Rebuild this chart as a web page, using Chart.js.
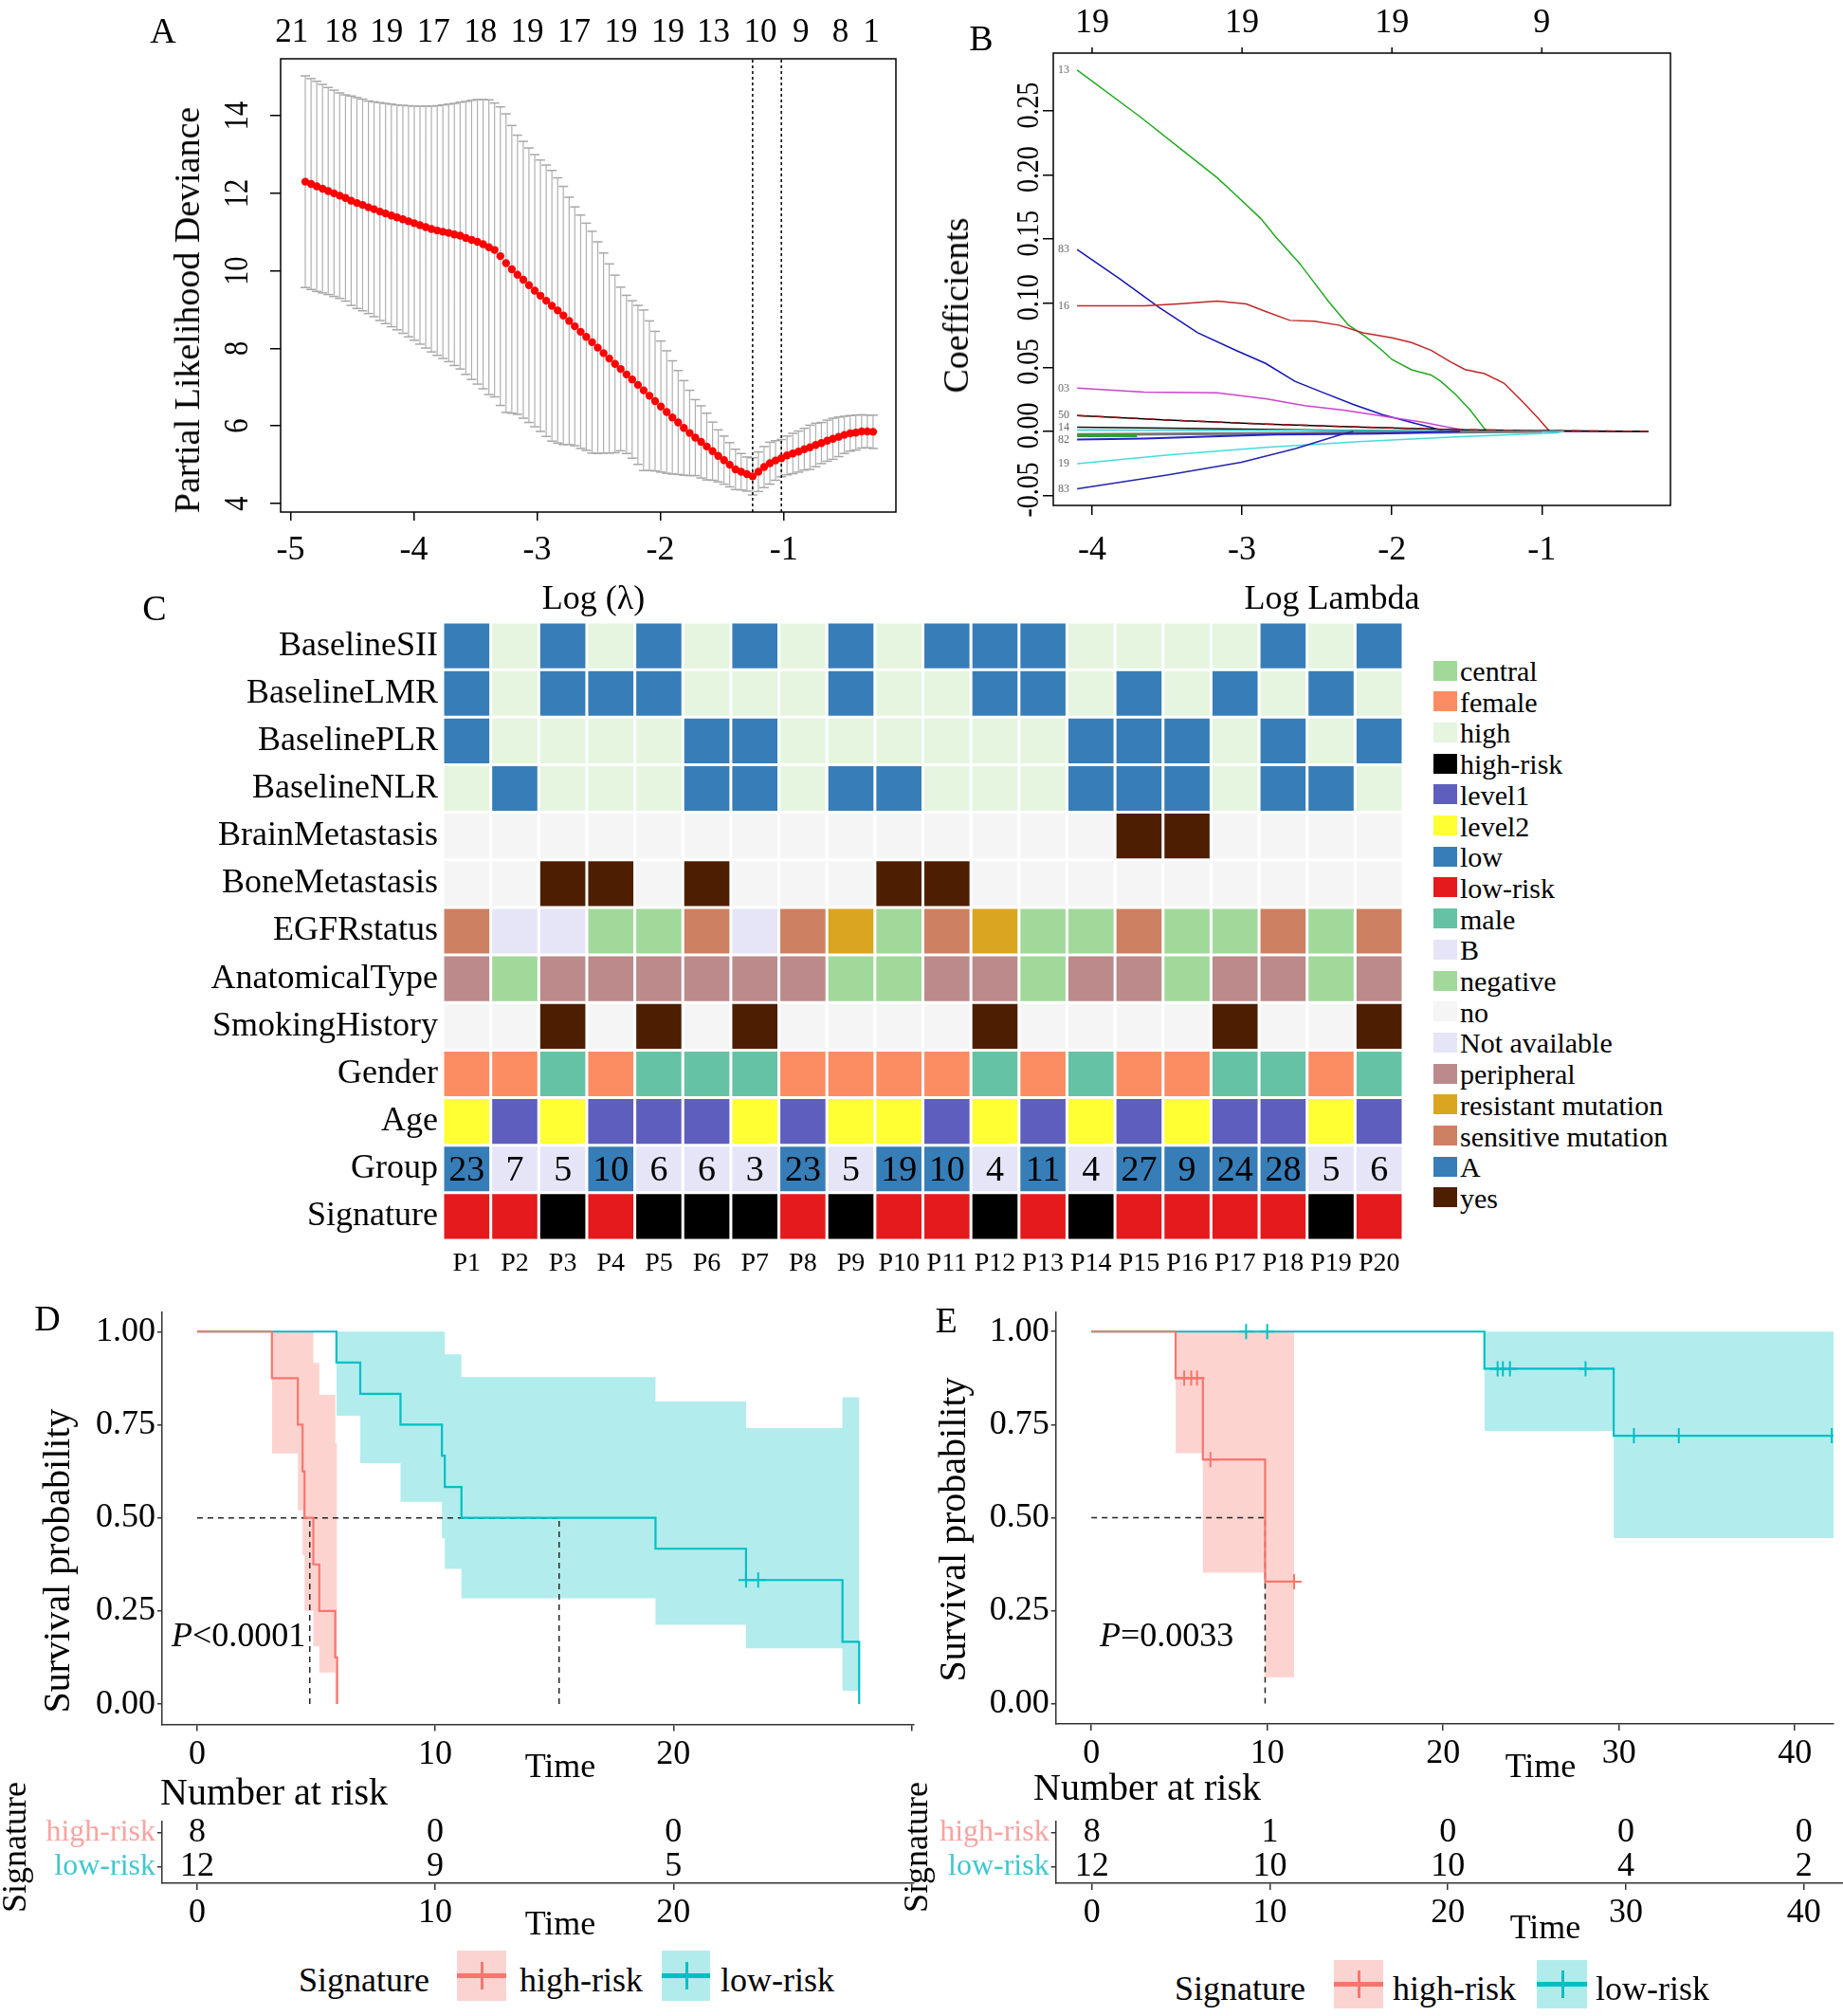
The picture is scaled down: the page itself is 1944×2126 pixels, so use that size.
<!DOCTYPE html>
<html>
<head>
<meta charset="utf-8">
<script src="https://cdn.jsdelivr.net/npm/chart.js@4.4.0/dist/chart.umd.min.js"></script>
<style>
  body { margin: 0; background: #fff; width: 1944px; height: 2126px; position: relative; overflow: hidden;
         font-family: 'Liberation Serif', 'Times New Roman', serif; color: #000; }
  canvas { position: absolute; }
  .t { position: absolute; white-space: nowrap; line-height: 1; transform: translate(-50%, -50%); }
  .rot { transform: translate(-50%, -50%) rotate(-90deg); }
  .l { position: absolute; white-space: nowrap; line-height: 1; transform: translate(0, -50%); }
  .key { position: absolute; }
  .key .h { position: absolute; left: 0; right: 0; top: 50%; height: 5px; margin-top: -3px; }
  .key .v { position: absolute; left: 50%; width: 3px; margin-left: -1px; top: 22%; bottom: 22%; }
  .sw { position: absolute; width: 25px; height: 21px; }
</style>
</head>
<body>
<canvas id="chartA" width="976" height="660" style="left:0;top:0"></canvas>
<canvas id="chartB" width="968" height="660" style="left:976px;top:0"></canvas>
<canvas id="chartC" width="1500" height="720" style="left:0;top:640px"></canvas>
<canvas id="chartD" width="976" height="520" style="left:0;top:1360px"></canvas>
<canvas id="tableD" width="976" height="140" style="left:0;top:1900px"></canvas>
<canvas id="chartE" width="968" height="520" style="left:976px;top:1360px"></canvas>
<canvas id="tableE" width="968" height="140" style="left:976px;top:1900px"></canvas>

<div class="t" style="left:172px;top:32px;font-size:38px">A</div>
<div class="t" style="left:1035px;top:40px;font-size:38px">B</div>
<div class="t" style="left:163px;top:641px;font-size:38px">C</div>
<div class="t" style="left:50px;top:1390px;font-size:38px">D</div>
<div class="t" style="left:998px;top:1392px;font-size:38px">E</div>

<div class="t rot" style="left:197px;top:327px;font-size:38px">Partial Likelihood Deviance</div>
<div class="t" style="left:626px;top:630px;font-size:36px">Log (λ)</div>
<div class="t rot" style="left:1008px;top:322px;font-size:38px">Coefficients</div>
<div class="t" style="left:1405px;top:630px;font-size:36px">Log Lambda</div>

<div class="t rot" style="left:60px;top:1646px;font-size:40px">Survival probability</div>
<div class="t" style="left:591px;top:1862px;font-size:36px">Time</div>
<div class="l" style="left:181px;top:1724px;font-size:36px"><i>P</i>&lt;0.0001</div>
<div class="t" style="left:289px;top:1890px;font-size:40px">Number at risk</div>
<div class="t rot" style="left:15px;top:1948px;font-size:36px">Signature</div>
<div class="t" style="left:591px;top:2028px;font-size:36px">Time</div>

<div class="t rot" style="left:1005px;top:1613px;font-size:40px">Survival probability</div>
<div class="t" style="left:1625px;top:1862px;font-size:36px">Time</div>
<div class="l" style="left:1160px;top:1724px;font-size:36px"><i>P</i>=0.0033</div>
<div class="t" style="left:1210px;top:1885px;font-size:40px">Number at risk</div>
<div class="t rot" style="left:966px;top:1948px;font-size:36px">Signature</div>
<div class="t" style="left:1630px;top:2032px;font-size:36px">Time</div>

<div class="t" style="left:384px;top:2088px;font-size:36px">Signature</div>
<div class="key" style="left:482px;top:2057px;width:52px;height:53px;background:#fbd3d1"><div class="h" style="background:#f8766d"></div><div class="v" style="background:#f8766d"></div></div>
<div class="l" style="left:548px;top:2088px;font-size:36px">high-risk</div>
<div class="key" style="left:698px;top:2057px;width:51px;height:53px;background:#b2ebeb"><div class="h" style="background:#00bfc4"></div><div class="v" style="background:#00bfc4"></div></div>
<div class="l" style="left:760px;top:2088px;font-size:36px">low-risk</div>

<div class="t" style="left:1308px;top:2097px;font-size:36px">Signature</div>
<div class="key" style="left:1407px;top:2067px;width:52px;height:51px;background:#fbd3d1"><div class="h" style="background:#f8766d"></div><div class="v" style="background:#f8766d"></div></div>
<div class="l" style="left:1469px;top:2097px;font-size:36px">high-risk</div>
<div class="key" style="left:1621px;top:2067px;width:53px;height:51px;background:#b2ebeb"><div class="h" style="background:#00bfc4"></div><div class="v" style="background:#00bfc4"></div></div>
<div class="l" style="left:1683px;top:2097px;font-size:36px">low-risk</div>

<div id="heatLegend"></div>

<script>
// ---------- panel A: cross-validation curve ----------
const logLambda = [
  -4.880, -4.833, -4.787, -4.740, -4.694, -4.647, -4.601, -4.554, -4.508, -4.461,
  -4.415, -4.368, -4.322, -4.275, -4.229, -4.182, -4.136, -4.089, -4.043, -3.996,
  -3.950, -3.903, -3.857, -3.810, -3.764, -3.717, -3.671, -3.624, -3.578, -3.531,
  -3.484, -3.438, -3.391, -3.345, -3.298, -3.252, -3.205, -3.159, -3.112, -3.066,
  -3.019, -2.973, -2.926, -2.880, -2.833, -2.787, -2.740, -2.694, -2.647, -2.601,
  -2.554, -2.508, -2.461, -2.415, -2.368, -2.322, -2.275, -2.229, -2.182, -2.136,
  -2.089, -2.043, -1.996, -1.949, -1.903, -1.856, -1.810, -1.763, -1.717, -1.670,
  -1.624, -1.577, -1.531, -1.484, -1.438, -1.391, -1.345, -1.298, -1.252, -1.205,
  -1.159, -1.112, -1.066, -1.019, -0.973, -0.926, -0.880, -0.833, -0.787, -0.740,
  -0.694, -0.647, -0.601, -0.554, -0.508, -0.461, -0.415, -0.368, -0.322, -0.275
];
const cvMean = [
  12.30, 12.24, 12.18, 12.12, 12.06, 12.00, 11.94, 11.88, 11.81, 11.75,
  11.70, 11.64, 11.59, 11.53, 11.48, 11.43, 11.38, 11.33, 11.28, 11.23,
  11.18, 11.13, 11.08, 11.04, 11.01, 10.98, 10.94, 10.91, 10.85, 10.80,
  10.75, 10.69, 10.61, 10.54, 10.38, 10.20, 10.04, 9.90, 9.77, 9.63,
  9.49, 9.36, 9.23, 9.10, 8.98, 8.85, 8.71, 8.57, 8.43, 8.30,
  8.16, 8.02, 7.88, 7.74, 7.60, 7.47, 7.33, 7.20, 7.06, 6.92,
  6.78, 6.64, 6.50, 6.36, 6.22, 6.09, 5.95, 5.82, 5.70, 5.59,
  5.47, 5.35, 5.23, 5.12, 5.00, 4.88, 4.82, 4.76, 4.70, 4.82,
  4.94, 5.04, 5.11, 5.17, 5.24, 5.29, 5.34, 5.40, 5.45, 5.51,
  5.56, 5.62, 5.67, 5.72, 5.77, 5.81, 5.83, 5.86, 5.86, 5.85
];
const cvSd = [
  2.73, 2.72, 2.71, 2.69, 2.67, 2.66, 2.65, 2.66, 2.70, 2.72,
  2.73, 2.74, 2.77, 2.81, 2.84, 2.87, 2.90, 2.94, 2.98, 3.02,
  3.07, 3.12, 3.17, 3.22, 3.27, 3.32, 3.38, 3.44, 3.52, 3.60,
  3.67, 3.73, 3.80, 3.79, 3.85, 3.85, 3.71, 3.60, 3.57, 3.54,
  3.51, 3.50, 3.50, 3.49, 3.42, 3.33, 3.19, 3.08, 3.01, 2.93,
  2.86, 2.73, 2.58, 2.44, 2.29, 2.11, 2.04, 2.03, 2.05, 2.07,
  1.93, 1.80, 1.69, 1.58, 1.46, 1.34, 1.22, 1.10, 0.98, 0.93,
  0.86, 0.75, 0.67, 0.62, 0.57, 0.52, 0.47, 0.44, 0.48, 0.51,
  0.53, 0.54, 0.51, 0.48, 0.50, 0.52, 0.53, 0.54, 0.57, 0.56,
  0.53, 0.53, 0.53, 0.51, 0.48, 0.46, 0.45, 0.43, 0.42, 0.43
];
const lambdaMinIdx = 78;
const lambda1seIdx = 83;
const topPosA = [-4.99, -4.59, -4.22, -3.84, -3.46, -3.08, -2.70, -2.32, -1.94, -1.57, -1.19, -0.86, -0.54, -0.29];
const topLabA = ['21', '18', '19', '17', '18', '19', '17', '19', '19', '13', '10', '9', '8', '1'];
const xTicksA = [-5, -4, -3, -2, -1];
const yTicksA = [4, 6, 8, 10, 12, 14];

// ---------- panel B: coefficient paths ----------
const greenPath = [[-4.10, 0.282], [-3.685, 0.246], [-3.426, 0.222], [-3.166, 0.198], [-3.037, 0.184], [-2.874, 0.166],
  [-2.777, 0.152], [-2.615, 0.131], [-2.518, 0.116], [-2.420, 0.101], [-2.291, 0.083], [-2.177, 0.074], [-2.064, 0.063],
  [-1.999, 0.056], [-1.869, 0.048], [-1.739, 0.044], [-1.674, 0.039], [-1.577, 0.029], [-1.480, 0.017], [-1.382, 0.002],
  [-1.36, 0], [-0.29, 0]];
const blueHiPath = [[-4.10, 0.142], [-3.815, 0.119], [-3.556, 0.097], [-3.296, 0.077], [-3.037, 0.063], [-2.842, 0.053],
  [-2.647, 0.039], [-2.453, 0.030], [-2.258, 0.021], [-2.064, 0.013], [-1.869, 0.007], [-1.739, 0.003], [-1.674, 0.001], [-1.64, 0]];
const redPath = [[-4.10, 0.098], [-3.653, 0.098], [-3.426, 0.0995], [-3.166, 0.1017], [-2.972, 0.0995], [-2.842, 0.0935],
  [-2.680, 0.0866], [-2.518, 0.0859], [-2.355, 0.0829], [-2.193, 0.0769], [-1.999, 0.073], [-1.869, 0.0693], [-1.739, 0.0633],
  [-1.609, 0.0542], [-1.512, 0.0482], [-1.382, 0.0451], [-1.253, 0.0376], [-1.123, 0.0225], [-1.026, 0.0104], [-0.954, 0.0008],
  [-0.94, 0], [-0.75, 0]];
const magentaPath = [[-4.10, 0.0337], [-3.653, 0.0307], [-3.166, 0.0301], [-2.842, 0.0255], [-2.583, 0.0201], [-2.323, 0.0165],
  [-2.064, 0.0119], [-1.804, 0.0074], [-1.609, 0.0029], [-1.512, 0.0008], [-1.49, 0], [-0.29, 0]];
const blackPath = [[-4.10, 0.0124], [-3.491, 0.0088], [-2.842, 0.0057], [-2.193, 0.0033], [-1.545, 0.0012], [-0.896, 0.0005], [-0.29, 0]];
const black2Path = [[-4.10, 0.0033], [-3.5, 0.0025], [-3.0, 0.0018], [-2.5, 0.0010], [-2.0, 0.0005], [-1.5, 0]];
const tealPath = [[-4.10, 0.001], [-2.6, 0.0008], [-1.6, 0.0003], [-0.85, 0]];
const grayPath = [[-4.10, -0.0025], [-2.0, -0.001], [-1.0, 0]];
const greenLowPath = [[-4.10, -0.003], [-3.70, -0.003]];
const blueLowPath = [[-4.10, -0.0063], [-3.653, -0.0057], [-3.2, -0.004], [-2.78, -0.0024], [-2.10, -0.0018], [-1.545, 0]];
const cyanPath = [[-4.10, -0.0253], [-3.491, -0.0184], [-2.842, -0.0124], [-2.193, -0.0079], [-1.545, -0.0042], [-0.896, -0.0012], [-0.86, 0]];
const darkBluePath = [[-4.10, -0.0448], [-3.491, -0.034], [-3.004, -0.0241], [-2.647, -0.0136], [-2.355, -0.0031], [-2.258, 0]];
const xTicksB = [-4, -3, -2, -1];
const topLabB = ['19', '19', '19', '9'];
const yTicksB = [-0.05, 0, 0.05, 0.10, 0.15, 0.20, 0.25];

// ---------- panel C: heatmap ----------
const patients = ['P1','P2','P3','P4','P5','P6','P7','P8','P9','P10','P11','P12','P13','P14','P15','P16','P17','P18','P19','P20'];
const rowNames = ['BaselineSII','BaselineLMR','BaselinePLR','BaselineNLR','BrainMetastasis','BoneMetastasis','EGFRstatus',
  'AnatomicalType','SmokingHistory','Gender','Age','Group','Signature'];
const baselineSII = ['low','high','low','high','low','high','low','high','low','high','low','low','low','high','high','high','high','low','high','low'];
const baselineLMR = ['low','high','low','low','low','high','high','high','low','high','high','low','low','high','low','high','low','high','low','high'];
const baselinePLR = ['low','high','high','high','high','low','low','high','high','high','high','high','high','low','low','low','high','low','high','low'];
const baselineNLR = ['high','low','high','high','high','low','low','high','low','low','high','high','high','low','low','low','high','low','low','high'];
const brainMetastasis = ['no','no','no','no','no','no','no','no','no','no','no','no','no','no','yes','yes','no','no','no','no'];
const boneMetastasis = ['no','no','yes','yes','no','yes','no','no','no','yes','yes','no','no','no','no','no','no','no','no','no'];
const egfrStatus = ['sensitive mutation','Not available','Not available','negative','negative','sensitive mutation','Not available',
  'sensitive mutation','resistant mutation','negative','sensitive mutation','resistant mutation','negative','negative',
  'sensitive mutation','negative','negative','sensitive mutation','negative','sensitive mutation'];
const anatomicalType = ['peripheral','central','peripheral','peripheral','peripheral','peripheral','peripheral','peripheral',
  'central','central','peripheral','peripheral','central','peripheral','peripheral','central','peripheral','peripheral','central','peripheral'];
const smokingHistory = ['no','no','yes','no','yes','no','yes','no','no','no','no','yes','no','no','no','no','yes','no','no','yes'];
const gender = ['female','female','male','female','male','male','male','female','female','female','female','male','female','male',
  'female','female','male','male','female','male'];
const age = ['level2','level1','level2','level1','level1','level1','level2','level1','level2','level2','level1','level2','level1',
  'level2','level1','level2','level1','level1','level2','level1'];
const groupClass = ['A','B','B','A','B','B','B','A','B','A','A','B','A','B','A','A','A','A','B','B'];
const groupNum = [23, 7, 5, 10, 6, 6, 3, 23, 5, 19, 10, 4, 11, 4, 27, 9, 24, 28, 5, 6];
const signature = ['low-risk','low-risk','high-risk','low-risk','high-risk','high-risk','high-risk','low-risk','high-risk','low-risk',
  'low-risk','high-risk','low-risk','high-risk','low-risk','low-risk','low-risk','low-risk','high-risk','low-risk'];
const legendLabels = ['central','female','high','high-risk','level1','level2','low','low-risk','male','B','negative','no',
  'Not available','peripheral','resistant mutation','sensitive mutation','A','yes'];
const legendColors = ['#a1d99b','#fc8d62','#e5f5e0','#000000','#5e5ebf','#ffff33','#377eb8','#e41a1c','#66c2a5','#e5e5f7',
  '#a1d99b','#f5f5f5','#e5e5f7','#bc8a8a','#daa520','#cd8162','#377eb8','#4d1f00'];

// ---------- panel D: KM, training ----------
const dHighT = [0, 3.14, 4.23, 4.43, 4.51, 4.88, 5.13, 5.80, 5.88];
const dHighS = [1, 0.875, 0.75, 0.625, 0.5, 0.375, 0.25, 0.125, 0];
const dLowT = [0, 5.85, 6.85, 8.54, 10.28, 10.40, 11.10, 19.25, 23.05, 27.10, 27.80];
const dLowS = [1, 0.917, 0.833, 0.75, 0.667, 0.583, 0.5, 0.417, 0.333, 0.167, 0];
const dHighBandT = [3.14, 4.23, 4.43, 4.51, 4.88, 5.13, 5.80, 5.88];
const dHighUpper = [1, 1, 1, 1, 0.916, 0.83, 0.70, 0.70];
const dHighLower = [0.673, 0.52, 0.40, 0.25, 0.155, 0.085, 0, 0];
const dLowBandT = [5.85, 6.85, 8.54, 10.28, 10.40, 11.10, 19.25, 23.05, 27.10, 27.80];
const dLowUpper = [1, 1, 1, 1, 0.939, 0.878, 0.812, 0.741, 0.824, 0.824];
const dLowLower = [0.774, 0.647, 0.543, 0.445, 0.363, 0.284, 0.213, 0.15, 0.036, 0.036];
const dHighCensT = [];
const dHighCensS = [];
const dLowCensT = [23.05, 23.56];
const dLowCensS = [0.333, 0.333];
const dMedians = [4.73, 15.2];
const dRiskTimes = [0, 10, 20];
const dRiskHigh = [8, 0, 0];
const dRiskLow = [12, 9, 5];

// ---------- panel E: KM, validation ----------
const eHighT = [0, 4.79, 6.34, 9.88, 11.53];
const eHighS = [1, 0.875, 0.656, 0.328, 0.328];
const eLowT = [0, 22.35, 29.70, 42.10];
const eLowS = [1, 0.9, 0.72, 0.72];
const eHighBandT = [4.79, 6.34, 9.88, 11.53];
const eHighUpper = [1, 1, 1, 1];
const eHighLower = [0.673, 0.352, 0.071, 0.071];
const eLowBandT = [22.35, 29.70, 42.20];
const eLowUpper = [1, 1, 1];
const eLowLower = [0.733, 0.445, 0.445];
const eHighCensT = [5.28, 5.68, 6.01, 6.77, 11.53];
const eHighCensS = [0.875, 0.875, 0.875, 0.656, 0.328];
const eLowCensT = [8.8, 10.0, 23.1, 23.4, 23.8, 28.1, 30.85, 33.4, 42.1];
const eLowCensS = [1, 1, 0.9, 0.9, 0.9, 0.9, 0.72, 0.72, 0.72];
const eMedians = [9.88];
const eRiskTimes = [0, 10, 20, 30, 40];
const eRiskHigh = [8, 1, 0, 0, 0];
const eRiskLow = [12, 10, 10, 4, 2];

const kmYTicks = [0, 0.25, 0.5, 0.75, 1];

// ---------- common settings ----------
const SERIF = "'Liberation Serif', 'Times New Roman', serif";
Chart.defaults.font.family = SERIF;
Chart.defaults.color = '#000';
Chart.defaults.animation = false;
Chart.defaults.responsive = false;
Chart.defaults.devicePixelRatio = 1;
Chart.defaults.plugins.legend.display = false;
Chart.defaults.plugins.tooltip.enabled = false;

const RED = '#f8766d', TEAL = '#00bfc4';
const RED_BAND = 'rgba(248,118,109,0.32)', TEAL_BAND = 'rgba(0,191,196,0.30)';

const setTicks = vals => scale => { scale.ticks = vals.map(v => ({ value: v })); };

// box around the plot region (R style)
const framePlugin = {
  id: 'frame',
  afterDraw(chart) {
    const a = chart.chartArea, g = chart.ctx;
    g.save();
    g.strokeStyle = '#000';
    g.lineWidth = 1.5;
    g.strokeRect(a.left, a.top, a.right - a.left, a.bottom - a.top);
    g.restore();
  }
};

// y tick labels written along the axis
const rotYPlugin = {
  id: 'rotY',
  afterDraw(chart, args, o) {
    const g = chart.ctx, s = chart.scales.y;
    g.save();
    g.font = o.font;
    g.fillStyle = '#000';
    g.textAlign = 'center';
    g.textBaseline = 'middle';
    o.values.forEach((v, i) => {
      g.save();
      g.translate(o.x, s.getPixelForValue(v) - (o.shift || 0));
      g.rotate(-Math.PI / 2);
      g.scale(o.squeeze || 1, 1);
      g.fillText(o.labels[i], 0, 0);
      g.restore();
    });
    g.restore();
  }
};

// numbers above the plot (non-zero counts)
const topLabPlugin = {
  id: 'topLab',
  afterDraw(chart, args, o) {
    const g = chart.ctx, s = chart.scales.x, top = chart.chartArea.top;
    g.save();
    g.font = o.font;
    g.fillStyle = '#000';
    g.strokeStyle = '#000';
    g.lineWidth = 1.5;
    g.textAlign = 'center';
    g.textBaseline = 'middle';
    o.values.forEach((v, i) => {
      const x = s.getPixelForValue(v);
      g.fillText(o.labels[i], x, o.y);
      if (o.tick) {
        g.beginPath();
        g.moveTo(x, top);
        g.lineTo(x, top - o.tick);
        g.stroke();
      }
    });
    g.restore();
  }
};

// ---------- panel A ----------
const aDots = logLambda.map((x, i) => ({ x: x, y: cvMean[i] }));
const aWhiskers = [];
const aCaps = [];
logLambda.forEach((x, i) => {
  aWhiskers.push({ x: x, y: cvMean[i] - cvSd[i] }, { x: x, y: cvMean[i] + cvSd[i] }, { x: x, y: null });
  aCaps.push({ x: x, y: cvMean[i] - cvSd[i] }, { x: x, y: cvMean[i] + cvSd[i] });
});
const aYMin = 3.78, aYMax = 15.47;
const vline = (x, y0, y1) => [{ x: x, y: y0 }, { x: x, y: y1 }];

new Chart(document.getElementById('chartA'), {
  type: 'line',
  data: {
    datasets: [
      { data: aDots, showLine: false, pointRadius: 4.2, pointBackgroundColor: '#ff0000', pointBorderWidth: 0 },
      { data: vline(logLambda[lambdaMinIdx], aYMin, aYMax), borderColor: '#000', borderWidth: 1.5, borderDash: [3, 3], pointRadius: 0 },
      { data: vline(logLambda[lambda1seIdx], aYMin, aYMax), borderColor: '#000', borderWidth: 1.5, borderDash: [3, 3], pointRadius: 0 },
      { data: aCaps, showLine: false, pointStyle: 'line', pointRadius: 5, pointBorderColor: '#a8a8a8', pointBorderWidth: 1.5 },
      { data: aWhiskers, borderColor: '#b0b0b0', borderWidth: 1.2, pointRadius: 0, spanGaps: false }
    ]
  },
  options: {
    layout: { padding: { left: 226, top: 62, right: 31, bottom: 20 } },
    scales: {
      x: {
        type: 'linear', min: -5.08, max: -0.09,
        afterBuildTicks: setTicks(xTicksA),
        ticks: { font: { size: 36 }, color: '#000', padding: 10, callback: v => String(v) },
        grid: { drawOnChartArea: false, tickLength: 9, color: '#000', lineWidth: 1.5 },
        border: { display: false },
        afterFit: s => { s.height = 100; }
      },
      y: {
        type: 'linear', min: aYMin, max: aYMax,
        afterBuildTicks: setTicks(yTicksA),
        ticks: { display: false },
        grid: { drawOnChartArea: false, tickLength: 11, color: '#000', lineWidth: 1.5 },
        border: { display: false },
        afterFit: s => { s.width = 70; }
      }
    },
    plugins: {
      rotY: { values: yTicksA, labels: yTicksA.map(String), x: 252, font: '36px ' + SERIF, squeeze: 0.85 },
      topLab: { values: topPosA, labels: topLabA, y: 35, font: '35px ' + SERIF, tick: 0 }
    }
  },
  plugins: [framePlugin, rotYPlugin, topLabPlugin]
});

// ---------- panel B ----------
const bLines = [
  { path: greenPath, color: '#1faa1f', tag: '13' },
  { path: blueHiPath, color: '#1414b8', tag: '83' },
  { path: redPath, color: '#c02828', tag: '16' },
  { path: magentaPath, color: '#cc44cc', tag: '03' },
  { path: blackPath, color: '#000000', tag: '50' },
  { path: blackPath, color: '#a01010', tag: '', dash: [10, 8] },
  { path: black2Path, color: '#111111', tag: '14' },
  { path: tealPath, color: '#30d0d0', tag: '' },
  { path: grayPath, color: '#777777', tag: '', width: 3 },
  { path: greenLowPath, color: '#3a9a3a', tag: '', width: 4 },
  { path: blueLowPath, color: '#2222cc', tag: '82', width: 2 },
  { path: cyanPath, color: '#40dede', tag: '19' },
  { path: darkBluePath, color: '#2424a8', tag: '83' }
];
const tagPlugin = {
  id: 'tags',
  afterDraw(chart) {
    const g = chart.ctx, y = chart.scales.y, left = chart.chartArea.left;
    g.save();
    g.font = '12px ' + SERIF;
    g.fillStyle = '#666';
    g.textAlign = 'left';
    g.textBaseline = 'middle';
    bLines.forEach(l => { if (l.tag) g.fillText(l.tag, left + 5, y.getPixelForValue(l.path[0][1])); });
    g.restore();
  }
};
new Chart(document.getElementById('chartB'), {
  type: 'line',
  data: {
    datasets: bLines.map(l => ({
      data: l.path.map(p => ({ x: p[0], y: p[1] })),
      borderColor: l.color, borderWidth: l.width || 1.5, borderDash: l.dash || [], pointRadius: 0
    })).reverse()
  },
  options: {
    layout: { padding: { left: 75, top: 56, right: 182, bottom: 27 } },
    scales: {
      x: {
        type: 'linear', min: -4.259, max: -0.142,
        afterBuildTicks: setTicks(xTicksB),
        ticks: { font: { size: 36 }, color: '#000', padding: 16, callback: v => String(v) },
        grid: { drawOnChartArea: false, tickLength: 10, color: '#000', lineWidth: 1.5 },
        border: { display: false },
        afterFit: s => { s.height = 100; }
      },
      y: {
        type: 'linear', min: -0.0578, max: 0.2952,
        afterBuildTicks: setTicks(yTicksB),
        ticks: { display: false },
        grid: { drawOnChartArea: false, tickLength: 11, color: '#000', lineWidth: 1.5 },
        border: { display: false },
        afterFit: s => { s.width = 60; }
      }
    },
    plugins: {
      rotY: { values: yTicksB, labels: yTicksB.map(v => v.toFixed(2)), x: 110, font: '34px ' + SERIF, squeeze: 0.82, shift: 6 },
      topLab: { values: xTicksB, labels: topLabB, y: 25, font: '36px ' + SERIF, tick: 6 }
    }
  },
  plugins: [framePlugin, rotYPlugin, topLabPlugin, tagPlugin]
});

// ---------- panel C ----------
const heatRows = [baselineSII, baselineLMR, baselinePLR, baselineNLR, brainMetastasis, boneMetastasis, egfrStatus,
  anatomicalType, smokingHistory, gender, age, groupClass, signature];
const heatSets = legendLabels.map((lab, k) => ({
  label: lab, backgroundColor: legendColors[k], borderWidth: 0,
  grouped: false, barPercentage: 0.94, categoryPercentage: 1, data: []
}));
heatRows.forEach((row, r) => row.forEach((v, c) => {
  heatSets[legendLabels.indexOf(v)].data.push({ x: patients[c], y: [r - 0.47, r + 0.47] });
}));
const groupNumPlugin = {
  id: 'groupNum',
  afterDatasetsDraw(chart) {
    const g = chart.ctx, xs = chart.scales.x, ys = chart.scales.y;
    const r = rowNames.indexOf('Group');
    g.save();
    g.font = '38px ' + SERIF;
    g.fillStyle = '#000';
    g.textAlign = 'center';
    g.textBaseline = 'middle';
    groupNum.forEach((n, i) => g.fillText(String(n), xs.getPixelForValue(i), ys.getPixelForValue(r) + 2));
    g.restore();
  }
};
new Chart(document.getElementById('chartC'), {
  type: 'bar',
  data: { labels: patients, datasets: heatSets },
  options: {
    layout: { padding: { left: 0, top: 16, right: 20, bottom: 2 } },
    scales: {
      x: {
        type: 'category',
        grid: { display: false, drawTicks: false }, border: { display: false },
        ticks: { font: { size: 28 }, color: '#000', padding: 8, maxRotation: 0, autoSkip: false },
        afterFit: s => { s.height = 50; s.paddingLeft = 0; s.paddingRight = 0; }
      },
      y: {
        type: 'linear', min: -0.5, max: 12.5, reverse: true,
        afterBuildTicks: setTicks(rowNames.map((n, i) => i)),
        grid: { display: false, drawTicks: false }, border: { display: false },
        ticks: { font: { size: 36 }, color: '#000', padding: 5, autoSkip: false, callback: v => rowNames[v] },
        afterFit: s => { s.width = 467; s.paddingTop = 0; s.paddingBottom = 0; }
      }
    }
  },
  plugins: [groupNumPlugin]
});

// heatmap legend
const legendBox = document.getElementById('heatLegend');
legendLabels.forEach((lab, k) => {
  const y = 707 + k * 32.7;
  const sw = document.createElement('div');
  sw.className = 'sw';
  sw.style.left = '1512px';
  sw.style.top = (y - 10.5) + 'px';
  sw.style.background = legendColors[k];
  legendBox.appendChild(sw);
  const tx = document.createElement('div');
  tx.className = 'l';
  tx.style.left = '1540px';
  tx.style.top = (y + 1) + 'px';
  tx.style.fontSize = '30px';
  tx.textContent = lab;
  legendBox.appendChild(tx);
});

// ---------- panels D and E ----------
const pts = (t, s) => t.map((x, i) => ({ x: x, y: s[i] }));

function kmPlot(id, o) {
  const datasets = [
    { data: pts(o.hiCensT, o.hiCensS), showLine: false, pointStyle: 'cross', pointRadius: 8, pointBorderColor: RED, pointBorderWidth: 2 },
    { data: pts(o.loCensT, o.loCensS), showLine: false, pointStyle: 'cross', pointRadius: 8, pointBorderColor: TEAL, pointBorderWidth: 2 },
    { data: pts(o.hiT, o.hiS), stepped: true, borderColor: RED, borderWidth: 2.2, pointRadius: 0 },
    { data: pts(o.loT, o.loS), stepped: true, borderColor: TEAL, borderWidth: 2.2, pointRadius: 0 },
    { data: [{ x: 0, y: 0.5 }, { x: Math.max(...o.medians), y: 0.5 }], borderColor: '#222', borderWidth: 1.5, borderDash: [6, 5], pointRadius: 0 }
  ];
  o.medians.forEach(m => datasets.push(
    { data: vline(m, 0, 0.5), borderColor: '#222', borderWidth: 1.5, borderDash: [6, 5], pointRadius: 0 }));
  datasets.push(
    { data: pts(o.hiBandT, o.hiUp), stepped: true, fill: '+1', backgroundColor: RED_BAND, borderColor: 'transparent', borderWidth: 0, pointRadius: 0 },
    { data: pts(o.hiBandT, o.hiLo), stepped: true, fill: false, borderColor: 'transparent', borderWidth: 0, pointRadius: 0 },
    { data: pts(o.loBandT, o.loUp), stepped: true, fill: '+1', backgroundColor: TEAL_BAND, borderColor: 'transparent', borderWidth: 0, pointRadius: 0 },
    { data: pts(o.loBandT, o.loLo), stepped: true, fill: false, borderColor: 'transparent', borderWidth: 0, pointRadius: 0 }
  );
  new Chart(document.getElementById(id), {
    type: 'line',
    data: { datasets: datasets },
    options: {
      layout: { padding: o.padding },
      scales: {
        x: {
          type: 'linear', min: o.xmin, max: o.xmax,
          afterBuildTicks: setTicks(o.xticks),
          ticks: { font: { size: 36 }, color: '#000', padding: 3, callback: v => (o.xlabels.includes(v) ? String(v) : '') },
          grid: { drawOnChartArea: false, tickLength: 7, color: '#333', lineWidth: 1.5 },
          border: { display: true, color: '#333', width: 1.5 },
          afterFit: s => { s.height = 60; }
        },
        y: {
          type: 'linear', min: -0.0546, max: 1.0526,
          afterBuildTicks: setTicks(kmYTicks),
          ticks: { font: { size: 36 }, color: '#000', padding: 2, callback: v => v.toFixed(2) },
          grid: { drawOnChartArea: false, tickLength: 5, color: '#333', lineWidth: 1.5 },
          border: { display: true, color: '#333', width: 1.5 },
          afterFit: s => { s.width = o.yWidth; }
        }
      }
    }
  });
}

const riskPlugin = {
  id: 'riskNums',
  afterDraw(chart, args, o) {
    const g = chart.ctx, xs = chart.scales.x, ys = chart.scales.y;
    g.save();
    g.font = '36px ' + SERIF;
    g.fillStyle = '#000';
    g.textAlign = 'center';
    g.textBaseline = 'middle';
    o.times.forEach((t, i) => {
      g.fillText(String(o.high[i]), xs.getPixelForValue(t), ys.getPixelForValue(2));
      g.fillText(String(o.low[i]), xs.getPixelForValue(t), ys.getPixelForValue(1));
    });
    g.restore();
  }
};

function riskTable(id, o) {
  new Chart(document.getElementById(id), {
    type: 'line',
    data: { datasets: [] },
    options: {
      layout: { padding: o.padding },
      scales: {
        x: {
          type: 'linear', min: o.xmin, max: o.xmax,
          afterBuildTicks: setTicks(o.xticks),
          ticks: { font: { size: 36 }, color: '#000', padding: 3, callback: v => (o.xlabels.includes(v) ? String(v) : '') },
          grid: { drawOnChartArea: false, tickLength: 7, color: '#333', lineWidth: 1.5 },
          border: { display: true, color: '#333', width: 1.5 },
          afterFit: s => { s.height = 50; }
        },
        y: {
          type: 'linear', min: 0.53, max: 2.32,
          afterBuildTicks: setTicks([1, 2]),
          ticks: {
            font: { size: 32 }, padding: 2,
            color: ctx => (ctx.tick && ctx.tick.value === 2 ? '#f9a3a1' : '#3ec7cf'),
            callback: v => (v === 2 ? 'high-risk' : 'low-risk')
          },
          grid: { drawOnChartArea: false, tickLength: 5, color: '#333', lineWidth: 1.5 },
          border: { display: true, color: '#333', width: 1.5 },
          afterFit: s => { s.width = o.yWidth; }
        }
      },
      plugins: { riskNums: { times: o.times, high: o.high, low: o.low } }
    },
    plugins: [riskPlugin]
  });
}

kmPlot('chartD', {
  hiT: dHighT, hiS: dHighS, loT: dLowT, loS: dLowS,
  hiBandT: dHighBandT, hiUp: dHighUpper, hiLo: dHighLower,
  loBandT: dLowBandT, loUp: dLowUpper, loLo: dLowLower,
  hiCensT: dHighCensT, hiCensS: dHighCensS, loCensT: dLowCensT, loCensS: dLowCensS,
  medians: dMedians, xmin: -1.47, xmax: 30.1, xticks: [0, 10, 20, 30], xlabels: [0, 10, 20],
  yWidth: 171, padding: { left: 0, top: 23, right: 12, bottom: 1.5 }
});
riskTable('tableD', {
  times: dRiskTimes, high: dRiskHigh, low: dRiskLow,
  xmin: -1.47, xmax: 30.1, xticks: [0, 10, 20, 30], xlabels: [0, 10, 20],
  yWidth: 171, padding: { left: 0, top: 18, right: 12, bottom: 4 }
});
kmPlot('chartE', {
  hiT: eHighT, hiS: eHighS, loT: eLowT, loS: eLowS,
  hiBandT: eHighBandT, hiUp: eHighUpper, hiLo: eHighLower,
  loBandT: eLowBandT, loUp: eLowUpper, loLo: eLowLower,
  hiCensT: eHighCensT, hiCensS: eHighCensS, loCensT: eLowCensT, loCensS: eLowCensS,
  medians: eMedians, xmin: -2.02, xmax: 42.2, xticks: [0, 10, 20, 30, 40], xlabels: [0, 10, 20, 30, 40],
  yWidth: 137.7, padding: { left: 0, top: 23, right: 0, bottom: 2 }
});
riskTable('tableE', {
  times: eRiskTimes, high: eRiskHigh, low: eRiskLow,
  xmin: -2.02, xmax: 42.2, xticks: [0, 10, 20, 30, 40], xlabels: [0, 10, 20, 30, 40],
  yWidth: 137.7, padding: { left: 0, top: 18, right: 0, bottom: 4 }
});
</script>
</body>
</html>
